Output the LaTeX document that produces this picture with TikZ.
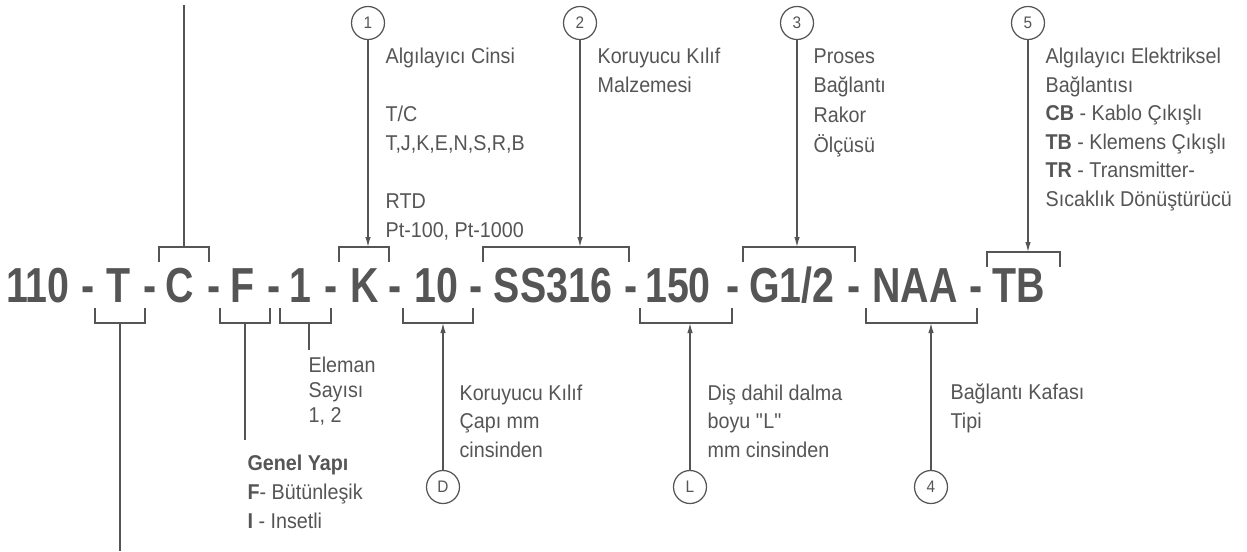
\documentclass[tikz,border=0pt]{standalone}
\usepackage{fontspec}
\setmainfont{Liberation Sans}[FakeStretch=0.92]
\newfontfamily\partfont{Liberation Sans}[FakeStretch=0.8]
\usetikzlibrary{arrows.meta}
\definecolor{ink}{HTML}{555555}

\begin{document}
\begin{tikzpicture}[
    x=0.02cm, y=-0.02cm, ink, line width=0.7pt,
    part/.style={inner sep=0, anchor=base, font=\partfont\bfseries\fontsize{28}{30}\selectfont},
    note/.style={inner sep=0, anchor=base west, align=left, font=\fontsize{12.2}{#1}\selectfont},
    note/.default=16.3pt,
    num/.style={circle, draw, minimum size=0.66cm, inner sep=0, font=\fontsize{9.5}{10}\selectfont},
    lead/.style={-{Latex[length=2mm, width=1.1mm]}}
]
    \useasboundingbox (0,0) rectangle (1247,551);

    % code parts
    \node[part] (p110) at (38,302) {110};
    \node[part] (pT) at (119,302) {T};
    \node[part] (pC) at (180,302) {C};
    \node[part] (pF) at (243,302) {F};
    \node[part] (pE) at (300,302) {1};
    \node[part] (pK) at (365,302) {K};
    \node[part] (pD) at (436,302) {10};
    \node[part] (pS) at (553,302) {SS316};
    \node[part] (pL) at (678,302) {150};
    \node[part] (pG) at (792,302) {G1/2};
    \node[part] (pN) at (915,302) {NAA};
    \node[part] (pTB) at (1019,302) {TB};
    \foreach \x [count=\i] in {88,150,214,274,331,395,476,631,733,854,976}
        \node[part] (d\i) at (\x,302) {-};

    % brackets
    \foreach \a/\b/\y/\m/\n in {159/209/247/184/bC, 339/389/247/368/bK, 483/629/247/580/bS, 743/855/247/797/bG, 987/1060/252/1028/bTB}
        \draw (\a,\y+15) -- (\a,\y) -- (\b,\y) -- (\b,\y+15) (\m,\y) coordinate (\n);
    \foreach \a/\b/\m/\n in {95/145/120/bT, 220/270/245/bF, 280/331/309/bE, 403/473/443/bD, 640/732/690/bL, 866/977/931/bN}
        \draw (\a,308) -- (\a,323) -- (\b,323) -- (\b,308) (\m,323) coordinate (\n);

    % numbered circles
    \node[num] (n1) at (368,23) {1};
    \node[num] (n2) at (580,23) {2};
    \node[num] (n3) at (797,23) {3};
    \node[num] (n5) at (1028,23) {5};
    \node[num] (nD) at (443,487) {D};
    \node[num] (nL) at (690,487) {L};
    \node[num] (n4) at (931,487) {4};

    \draw[lead] (n1) -- (bK);
    \draw[lead] (n2) -- (bS);
    \draw[lead] (n3) -- (bG);
    \draw[lead] (n5) -- (bTB);
    \draw[lead] (nD) -- (bD);
    \draw[lead] (nL) -- (bL);
    \draw[lead] (n4) -- (bN);

    % plain leaders
    \coordinate (topC) at (184,5);
    \coordinate (endT) at (120,551);
    \coordinate (endF) at (245,440);
    \coordinate (endE) at (309,350);
    \draw (bC) -- (topC);
    \draw (bT) -- (endT);
    \draw (bF) -- (endF);
    \draw (bE) -- (endE);

    % notes (placed at the baseline of their last line)
    \node[note=16.5pt] (sensor) at (385,237) {Algılayıcı Cinsi\\[16.5pt]T/C\\T,J,K,E,N,S,R,B\\[16.5pt]RTD\\Pt-100, Pt-1000};
    \node[note=16.5pt] (sheath) at (597,92) {Koruyucu Kılıf\\Malzemesi};
    \node[note=16.8pt] (process) at (813,152) {Proses\\Bağlantı\\Rakor\\Ölçüsü};
    \node[note=16.2pt] (wiring) at (1045,206) {Algılayıcı Elektriksel\\Bağlantısı\\\textbf{CB} - Kablo Çıkışlı\\\textbf{TB} - Klemens Çıkışlı\\\textbf{TR} - Transmitter-\\Sıcaklık Dönüştürücü};
    \node[note=14.2pt] (elements) at (308,422) {Eleman\\Sayısı\\1, 2};
    \node[note=16.2pt] (diameter) at (459,457) {Koruyucu Kılıf\\Çapı mm\\cinsinden};
    \node[note=16.5pt] (build) at (247,528) {\textbf{Genel Yapı}\\\textbf{F}- Bütünleşik\\\textbf{I} - Insetli};
    \node[note=16.2pt] (length) at (707,457) {Diş dahil dalma\\boyu \textquotedbl L\textquotedbl\\mm cinsinden};
    \node[note=16.2pt] (head) at (950,428) {Bağlantı Kafası\\Tipi};
\end{tikzpicture}
\end{document}
